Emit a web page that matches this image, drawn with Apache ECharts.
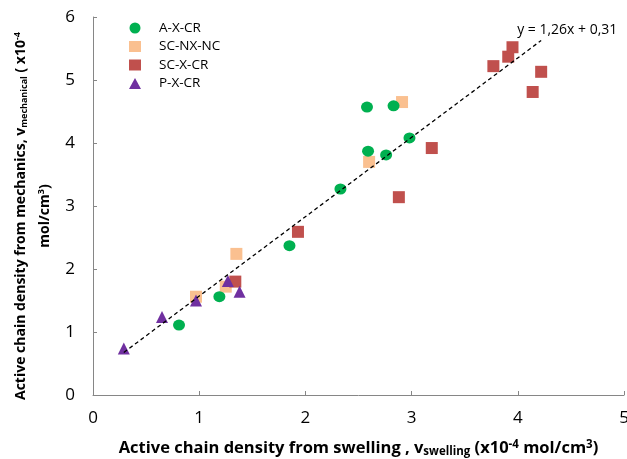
<!DOCTYPE html>
<html><head><meta charset="utf-8">
<script src="https://cdn.jsdelivr.net/npm/echarts@6/dist/echarts.min.js"></script>
<style>html,body{margin:0;padding:0;background:#fff}#c{width:627px;height:459px}</style>
</head><body><div id="c"></div>
<script>
const seriesNames = ['A-X-CR', 'SC-NX-NC', 'SC-X-CR', 'P-X-CR'];
const axcrX = [0.81, 1.19, 1.85, 2.33, 2.58, 2.59, 2.76, 2.83, 2.98];
const axcrY = [1.11, 1.56, 2.37, 3.27, 4.57, 3.87, 3.81, 4.59, 4.08];
const scnxX = [0.97, 1.25, 1.35, 2.60, 2.91];
const scnxY = [1.56, 1.72, 2.24, 3.70, 4.65];
const scxX = [1.34, 1.93, 2.88, 3.19, 3.77, 3.91, 3.95, 4.22, 4.14];
const scxY = [1.80, 2.59, 3.14, 3.92, 5.22, 5.37, 5.52, 5.13, 4.81];
const pxcrX = [0.29, 0.65, 0.97, 1.27, 1.38];
const pxcrY = [0.74, 1.24, 1.50, 1.81, 1.64];
const trendSlope = [1.26];
const trendIntercept = [0.31];
const trendLabel = 'y = 1,26x + 0,31';
const xTicks = [0, 1, 2, 3, 4, 5];
const yTicks = [0, 1, 2, 3, 4, 5, 6];

const zip = (a, b) => a.map((v, i) => [v, b[i]]);
const allX = axcrX.concat(scnxX, scxX, pxcrX);
const xmin = Math.min(...allX), xmax = Math.max(...allX);
const trend = [[xmin, trendSlope[0] * xmin + trendIntercept[0]], [xmax, trendSlope[0] * xmax + trendIntercept[0]]];

const FONT = 'Open Sans';
const rich = (fs) => ({
  b: {fontSize: fs, fontWeight: 'bold', color: '#000', fontFamily: FONT, align: 'center'},
  s: {fontSize: fs - 5, fontWeight: 'bold', color: '#000', fontFamily: FONT, align: 'center', padding: [7, 0, 0, 0]},
  p: {fontSize: fs - 5, fontWeight: 'bold', color: '#000', fontFamily: FONT, align: 'center', padding: [0, 0, 7, 0]}
});
const yRich = rich(14);
yRich.b.lineHeight = 24;
const chart = echarts.init(document.getElementById('c'), null, {renderer: 'canvas'});
chart.setOption({
  animation: false,
  textStyle: {fontFamily: FONT},
  grid: {left: 93, right: 3, top: 17, bottom: 64, containLabel: false, outerBoundsMode: 'none'},
  legend: {
    orient: 'vertical', left: 124, top: 16, itemGap: 4.5, itemWidth: 12, itemHeight: 11,
    textStyle: {fontSize: 13.5, color: '#000', fontFamily: FONT, padding: [0, 0, 0, 13]},
    data: seriesNames
  },
  xAxis: {
    type: 'value', min: xTicks[0], max: xTicks[xTicks.length - 1], interval: 1,
    splitLine: {show: false},
    axisLine: {lineStyle: {color: '#868686'}},
    axisTick: {inside: true, length: 4, lineStyle: {color: '#868686'}},
    axisLabel: {fontSize: 17, color: '#000', margin: 15, fontFamily: FONT},
    name: '{b|Active chain density from swelling , v}{s|swelling}{b| (x10}{p|-4}{b| mol/cm}{p|3}{b|)}',
    nameLocation: 'middle', nameGap: 44,
    nameTextStyle: {rich: rich(16.5)}
  },
  yAxis: {
    type: 'value', min: yTicks[0], max: yTicks[yTicks.length - 1], interval: 1,
    splitLine: {show: false},
    axisLine: {show: true, lineStyle: {color: '#868686'}},
    axisTick: {show: true, inside: true, length: 4, lineStyle: {color: '#868686'}},
    axisLabel: {fontSize: 17, color: '#000', margin: 18, fontFamily: FONT},
    name: '{b|Active chain density from mechanics, v}{s|mechanical}{b| ( x10}{p|-4}\n{b|mol/cm}{p|3}{b|)}',
    nameLocation: 'middle', nameGap: 36, nameRotate: 90,
    nameTextStyle: {align: 'center', rich: yRich, padding: [0, 20, 0, 0]}
  },
  series: [
    {name: seriesNames[0], type: 'scatter', symbol: 'circle', symbolSize: [12, 11], itemStyle: {color: '#00B050', opacity: 1}, data: zip(axcrX, axcrY), z: 3},
    {name: seriesNames[1], type: 'scatter', symbol: 'rect', symbolSize: 12, itemStyle: {color: '#FAC090', opacity: 1}, data: zip(scnxX, scnxY), z: 2},
    {name: seriesNames[2], type: 'scatter', symbol: 'rect', symbolSize: 12, itemStyle: {color: '#C0504D', opacity: 1}, data: zip(scxX, scxY), z: 2},
    {name: seriesNames[3], type: 'scatter', symbol: 'triangle', symbolSize: 12, itemStyle: {color: '#7030A0', opacity: 1}, data: zip(pxcrX, pxcrY), z: 4},
    {
      name: 'trend', type: 'line', data: trend, symbol: 'none', silent: true, z: 5,
      lineStyle: {color: '#000', width: 1.3, type: [4, 3]},
      endLabel: {show: true, formatter: trendLabel, fontSize: 14, color: '#000', fontFamily: FONT, offset: [-32, -10]}
    }
  ]
});
</script></body></html>
